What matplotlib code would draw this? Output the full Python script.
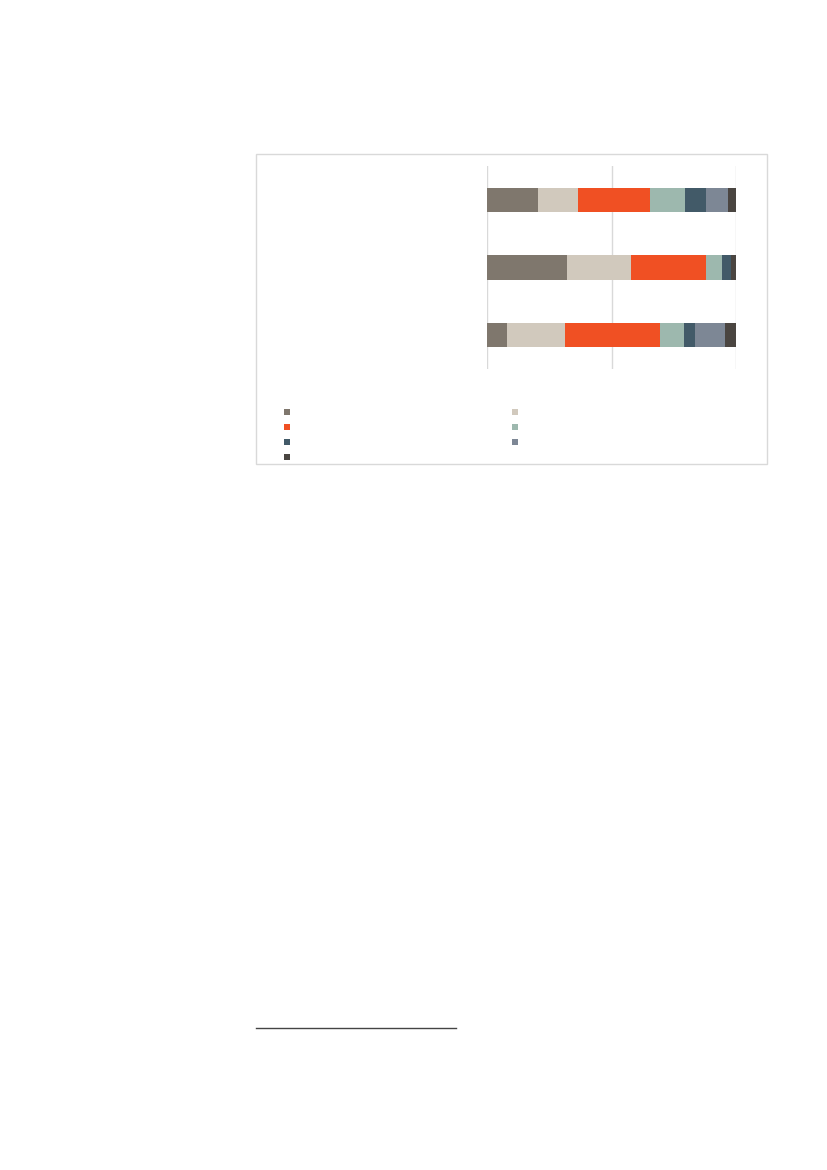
import numpy as np
import matplotlib
matplotlib.use('Agg')
import matplotlib.pyplot as plt
from matplotlib.patches import Patch, Rectangle

# shares in % per bar (top to bottom), one list per segment
kategorien = ['', '', '']
seg1 = [20.3, 32.0, 7.9]
seg2 = [16.3, 25.7, 23.4]
seg3 = [28.9, 30.4, 38.0]
seg4 = [14.2, 6.4, 9.9]
seg5 = [8.4, 3.6, 4.2]
seg6 = [8.7, 0.0, 12.3]
seg7 = [3.2, 1.9, 4.3]
serie = [seg1, seg2, seg3, seg4, seg5, seg6, seg7]
nomi = [''] * 7
colori = ['#7f776d', '#d1c9bd', '#f05023', '#9db8ae', '#425a68', '#7d8795', '#4a4541']
xticks = [0, 50, 100]

W, H = 827, 1170
fig = plt.figure(figsize=(W / 100, H / 100), dpi=100)

# cornice del grafico
fig.add_artist(Rectangle((256 / W, 1 - 464 / H), 511 / W, 310 / H,
                         transform=fig.transFigure, fill=False,
                         edgecolor='#d9d9d9', linewidth=1))

ax = fig.add_axes([487 / W, 1 - 369 / H, 249 / W, 203 / H])
y = np.arange(len(kategorien))
left = np.zeros(len(kategorien))
barre = []
for vals, c, n in zip(serie, colori, nomi):
    b = ax.barh(y, vals, left=left, height=0.355, color=c, label=n, zorder=3)
    barre.append(b)
    left += np.array(vals)

ax.set_xlim(0, 100)
ax.set_ylim(len(kategorien) - 0.5, -0.5)
ax.set_xticks(xticks)
ax.set_yticks([])
ax.tick_params(length=0, labelbottom=False)
ax.grid(axis='x', color='#d9d9d9', linewidth=1, zorder=0)
for s in ax.spines.values():
    s.set_visible(False)

# legenda a due colonne, ordinata per righe
ordine = [0, 2, 4, 6, 1, 3, 5]
handles = [Patch(facecolor=colori[i]) for i in ordine]
labels = [nomi[i] for i in ordine]
fig.legend(handles, labels, ncol=2, loc='upper left',
           bbox_to_anchor=(284 / W, 1 - 408 / H), frameon=False,
           fontsize=6, handlelength=0.72, handleheight=0.72,
           handletextpad=0.8, columnspacing=25.8, labelspacing=0.73,
           borderpad=0, borderaxespad=0)

# linea della nota a piè di pagina
fig.add_artist(plt.Line2D([256 / W, 456 / W], [1 - 1028 / H, 1 - 1028 / H],
                          transform=fig.transFigure, color='#444444', linewidth=1))

fig.savefig('out.png', dpi=100)
